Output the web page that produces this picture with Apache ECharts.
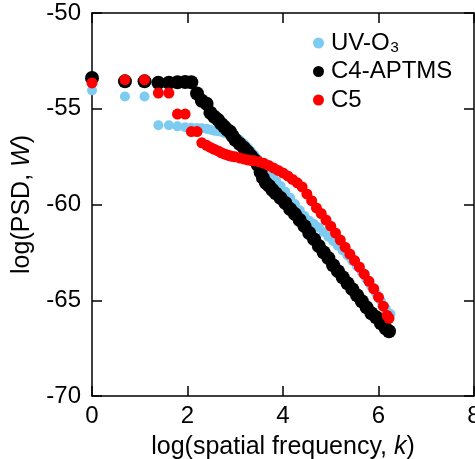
<!DOCTYPE html>
<html><head><meta charset="utf-8">
<script src="https://cdn.jsdelivr.net/npm/echarts@6/dist/echarts.min.js"></script>
<style>html,body{margin:0;padding:0;background:#fff}#c{width:475px;height:459px}</style>
</head><body><div id="c"></div>
<script>
// Series names
const seriesNames = ['UV-O\u2083', 'C4-APTMS', 'C5'];
// Axis ticks
const xTicks = [0, 2, 4, 6, 8];
const yTicks = [-70, -65, -60, -55, -50];

// UV-O3 (light blue)
const uvX = [0, 0.69, 1.10, 1.39, 1.61, 1.79, 1.95, 2.08, 2.20, 2.30, 2.40, 2.48, 2.56, 2.64, 2.71, 2.77, 2.83, 2.89, 2.94, 3.00,
  3.09, 3.18, 3.26, 3.33, 3.40, 3.47, 3.53, 3.60, 3.66, 3.72, 3.79, 3.86, 3.95, 4.05, 4.15, 4.25, 4.35, 4.45, 4.55, 4.65,
  4.75, 4.85, 4.95, 5.05, 5.15, 5.25, 5.35, 5.45, 5.55, 5.65, 5.75, 5.85, 5.95, 6.05, 6.15, 6.25];
const uvY = [-54.04, -54.36, -54.36, -55.86, -55.86, -55.92, -55.97, -55.99, -56.01, -56.02, -56.05, -56.10, -56.15, -56.18, -56.20, -56.26, -56.31, -56.36, -56.42, -56.48,
  -56.62, -56.82, -57.02, -57.22, -57.42, -57.63, -57.84, -58.02, -58.20, -58.38, -58.58, -58.78, -59.03, -59.34, -59.65, -59.98, -60.30, -60.60, -60.85, -61.02,
  -61.20, -61.44, -61.68, -61.91, -62.15, -62.40, -62.66, -62.93, -63.22, -63.53, -63.90, -64.27, -64.65, -65.03, -65.42, -65.72];

// C4-APTMS (black)
const c4X = [0, 0.69, 1.10, 1.39, 1.61, 1.79, 1.95, 2.08, 2.20, 2.30, 2.40, 2.48, 2.56, 2.64, 2.71, 2.77, 2.83, 2.89, 2.94, 3.00,
  3.09, 3.18, 3.26, 3.33, 3.40, 3.47, 3.53, 3.58, 3.64, 3.71, 3.78, 3.85, 3.95, 4.05, 4.15, 4.25, 4.35, 4.45, 4.55, 4.65,
  4.75, 4.85, 4.95, 5.05, 5.15, 5.25, 5.35, 5.45, 5.55, 5.65, 5.75, 5.85, 5.95, 6.05, 6.15, 6.22];
const c4Y = [-53.39, -53.57, -53.57, -53.64, -53.64, -53.62, -53.60, -53.62, -54.20, -54.58, -54.74, -55.21, -55.42, -55.58, -55.79, -55.94, -56.10, -56.20, -56.41, -56.62,
  -56.83, -57.04, -57.25, -57.46, -57.67, -57.93, -58.30, -58.61, -58.87, -59.03, -59.24, -59.42, -59.66, -59.92, -60.24, -60.50, -60.81, -61.13, -61.49, -61.81,
  -62.17, -62.49, -62.80, -63.17, -63.48, -63.80, -64.11, -64.42, -64.74, -65.05, -65.37, -65.68, -65.89, -66.20, -66.47, -66.62];

// C5 (red)
const c5X = [0, 0.69, 1.10, 1.39, 1.61, 1.79, 1.95, 2.08, 2.20, 2.30, 2.40, 2.48, 2.56, 2.64, 2.71, 2.77, 2.83, 2.89, 2.94, 3.00,
  3.09, 3.18, 3.26, 3.33, 3.40, 3.50, 3.60, 3.70, 3.80, 3.90, 4.00, 4.10, 4.20, 4.30, 4.40, 4.50, 4.60, 4.70, 4.80, 4.90,
  5.00, 5.10, 5.20, 5.30, 5.40, 5.50, 5.60, 5.70, 5.80, 5.90, 6.00, 6.10, 6.18, 6.22];
const c5Y = [-53.65, -53.48, -53.48, -54.18, -54.18, -55.28, -55.28, -56.19, -56.19, -56.78, -56.91, -57.02, -57.12, -57.20, -57.30, -57.36, -57.41, -57.46, -57.49, -57.51,
  -57.57, -57.62, -57.67, -57.70, -57.72, -57.77, -57.85, -57.96, -58.09, -58.22, -58.35, -58.51, -58.69, -58.87, -59.08, -59.45, -59.80, -60.18, -60.47, -60.81,
  -61.13, -61.49, -61.86, -62.23, -62.59, -62.93, -63.27, -63.64, -64.01, -64.40, -64.84, -65.31, -65.79, -65.94];

const F = '"Liberation Sans", Arial, Helvetica, sans-serif';
const pair = (xs, ys) => xs.map((x, i) => [x, ys[i]]);

const chart = echarts.init(document.getElementById('c'), null, {renderer: 'canvas'});
const mkLine = () => ({show: true, onZero: false, lineStyle: {color: '#000', width: 1.5}});
const mkTick = () => ({show: true, inside: true, length: 10, lineStyle: {color: '#000', width: 1.5}});
const lbl = () => ({color: '#000', fontSize: 24, fontFamily: F});
const rich = {
  n: {fontSize: 25, fontFamily: F, color: '#000'},
  i: {fontSize: 25, fontFamily: F, color: '#000', fontStyle: 'italic'}
};

chart.setOption({
  animation: false,
  backgroundColor: '#fff',
  grid: {left: 92, right: 1, top: 13, bottom: 63, containLabel: false, outerBoundsMode: 'none'},
  legend: {
    orient: 'vertical', left: 313, top: 31, padding: 0, itemWidth: 11, itemHeight: 11, itemGap: 4.5,
    icon: 'circle',
    data: seriesNames,
    textStyle: {fontSize: 24, fontFamily: F, color: '#000', lineHeight: 24, padding: [0, 0, 0, 2]}
  },
  xAxis: [{
    type: 'value', position: 'bottom', min: xTicks[0], max: xTicks[xTicks.length - 1], interval: 2,
    axisLine: mkLine(), axisTick: mkTick(), splitLine: {show: false},
    axisLabel: Object.assign({margin: 8, formatter: v => String(v)}, lbl()),
    name: '{n|log(spatial frequency, }{i|k}{n|)}', nameLocation: 'middle', nameGap: 39,
    nameTextStyle: {rich}
  }, {
    type: 'value', position: 'top', min: xTicks[0], max: xTicks[xTicks.length - 1], interval: 2,
    axisLine: mkLine(), axisTick: mkTick(), axisLabel: {show: false}, splitLine: {show: false}
  }],
  yAxis: [{
    type: 'value', position: 'left', min: yTicks[0], max: yTicks[yTicks.length - 1], interval: 5,
    axisLine: mkLine(), axisTick: mkTick(), splitLine: {show: false},
    axisLabel: Object.assign({margin: 11}, lbl()),
    name: '{n|log(PSD, }{i|W}{n|)}', nameLocation: 'middle', nameGap: 57,
    nameTextStyle: {rich}
  }, {
    type: 'value', position: 'right', min: yTicks[0], max: yTicks[yTicks.length - 1], interval: 5,
    axisLine: mkLine(), axisTick: mkTick(), axisLabel: {show: false}, splitLine: {show: false}
  }],
  series: [
    {name: seriesNames[0], type: 'scatter', data: pair(uvX, uvY), symbolSize: 10,
     itemStyle: {color: '#7dcbf0', opacity: 1}, z: 2},
    {name: seriesNames[1], type: 'scatter', data: pair(c4X, c4Y), symbolSize: 14,
     itemStyle: {color: '#000000', opacity: 1}, z: 3},
    {name: seriesNames[2], type: 'scatter', data: pair(c5X, c5Y), symbolSize: 11,
     itemStyle: {color: '#ff0000', opacity: 1}, z: 4}
  ]
});
</script>
</body></html>
